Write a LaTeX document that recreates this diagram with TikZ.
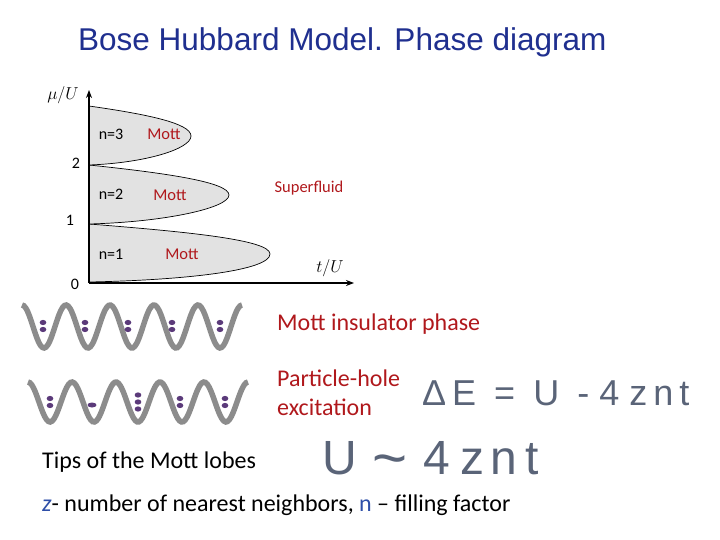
\documentclass[tikz,border=0pt]{standalone}
\usepackage{fontspec}
\setmainfont{Carlito}
\newfontfamily\lib{Liberation Sans}
\usetikzlibrary{arrows.meta}
\definecolor{ttl}{HTML}{1F2F8F}
\definecolor{mred}{HTML}{B0181C}
\definecolor{hand}{HTML}{5A6478}
\definecolor{dotc}{HTML}{5B3A7A}
\definecolor{wavec}{HTML}{8C8C8C}
\definecolor{lobe}{HTML}{E2E2E2}
\definecolor{zblue}{HTML}{2E4FA8}
\tikzset{
  lobestyle/.style={draw=black,fill=lobe,line width=0.7pt},
  axisstyle/.style={line width=2.2pt,-{Stealth[length=8pt]}},
  wave/.style={draw=wavec,line width=5.5pt},
  pdot/.style={fill=dotc,draw=none},
  redtxt/.style={text=mred,font=\fontsize{16.5}{19}\selectfont,inner sep=0},
  bodytxt/.style={font=\fontsize{24}{28}\selectfont,anchor=west,inner sep=0},
  handtxt/.style={text=hand,font=\lib,anchor=west,inner sep=0},
  ntxt/.style={font=\fontsize{16}{19}\selectfont,inner sep=0},
}
\begin{document}
\begin{tikzpicture}[x=1pt,y=-1pt]
\useasboundingbox (0,0) rectangle (720,540);
\node[text=ttl,font=\lib\fontsize{31.5}{36}\selectfont,anchor=west,inner sep=0] (title) at (78,42) {Bose Hubbard Model. Phase diagram};
% lobes
\draw[lobestyle] (89,282) .. controls (190,280) and (270,270) .. (270,254) .. controls (270,240) and (190,232) .. (89,224) -- cycle;
\draw[lobestyle] (89,224) .. controls (165,222) and (229,208) .. (229,195) .. controls (229,182) and (165,173) .. (89,165) -- cycle;
\draw[lobestyle] (89,165) .. controls (145,163) and (191,149) .. (191,136) .. controls (191,123) and (145,114) .. (89,106) -- cycle;
\coordinate (o) at (89,283);
\coordinate (ytop) at (89,90);
\coordinate (xend) at (354,283);
\draw[axisstyle] (o) -- (ytop);
\draw[axisstyle] (o) -- (xend);
\node[inner sep=0,font=\fontsize{19}{22}\selectfont] (mu) at (63,95) {$\mu/U$};
\node[inner sep=0,font=\fontsize{19}{22}\selectfont] (tu) at (330,268) {$t/U$};
\node[ntxt] (l2) at (76,163) {2};
\node[ntxt] (l1) at (70,220) {1};
\node[ntxt] (l0) at (75,284) {0};
\node[ntxt] (n3) at (111,134) {n=3};
\node[ntxt] (n2) at (111,194) {n=2};
\node[ntxt] (n1) at (111,254) {n=1};
\node[redtxt] (m3) at (164,134) {Mott};
\node[redtxt] (m2) at (170,195) {Mott};
\node[redtxt] (m1) at (182,254) {Mott};
\node[redtxt] (sf) at (309,188) {Superfluid};
% waves
\draw[wave] plot[domain=0:5,samples=120,smooth] ({22+\x*44},{326.5-21.5*cos(360*\x)});
\draw[wave] plot[domain=0:5,samples=120,smooth] ({28+\x*44},{402-20*cos(360*\x)});
% particles row 1
\foreach \px/\n in {43/2,85/2,128/2,172/2,220/2}{
  \foreach \k in {1,...,\n}{\fill[pdot] (\px,{315.5+\k*7}) ellipse (3.3 and 2.6);}}
% row 2
\foreach \px/\n in {50/2,138/3,180/2,225/2}{
  \foreach \k in {1,...,\n}{\fill[pdot] (\px,{402-3.5*\n+\k*7-3.5}) ellipse (3.3 and 2.6);}}
\fill[pdot] (92,405) ellipse (4.5 and 2.5);
% texts
\node[bodytxt,text=mred] (mip) at (277,324) {Mott insulator phase};
\node[bodytxt,text=mred] (ph1) at (277,378) {Particle-hole};
\node[bodytxt,text=mred] (ph2) at (277,407) {excitation};
\node[handtxt,font=\lib\fontsize{36}{40}\selectfont] (f1) at (422,393) {Δ\,E\hspace{18pt}=\hspace{18pt}U\hspace{18pt}-\hspace{10pt}4\hspace{10pt}z\hspace{6pt}n\hspace{6pt}t};
\node[handtxt,font=\lib\fontsize{48}{52}\selectfont] (f2) at (322,460) {U\hspace{16pt}\fontsize{60}{60}\selectfont\raisebox{-4pt}{\~{}}\fontsize{48}{52}\selectfont\hspace{16pt}4\hspace{10pt}z\hspace{6pt}n\hspace{8pt}t};
\node[bodytxt] (tips) at (42,462) {Tips of the Mott lobes};
\node[bodytxt] (zn) at (42,505) {\textcolor{zblue}{\itshape z}- number of nearest neighbors, \textcolor{zblue}{n} -- filling factor};
\end{tikzpicture}
\end{document}
